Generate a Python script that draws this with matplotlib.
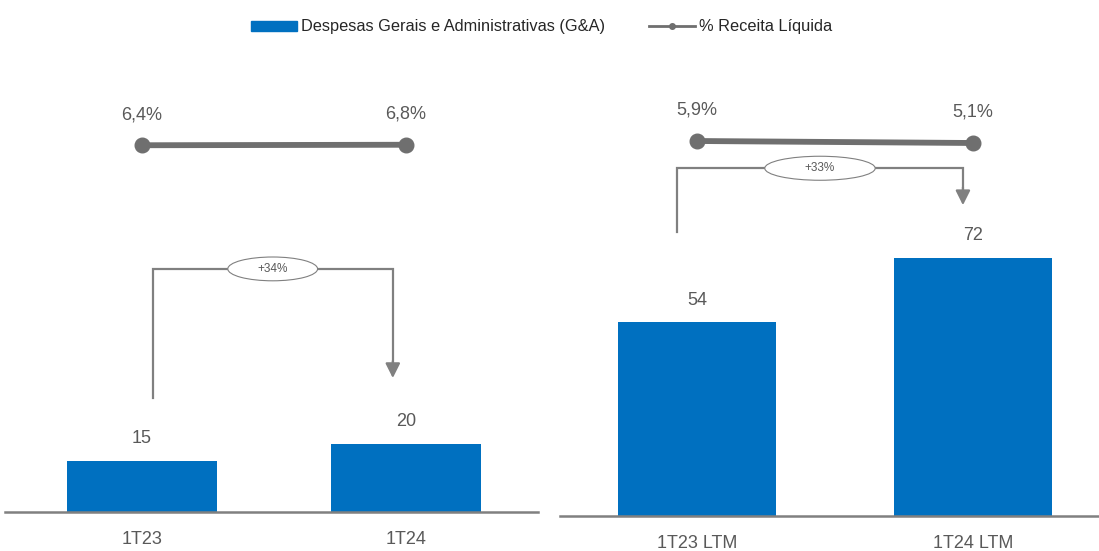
import matplotlib
matplotlib.use("Agg")
import matplotlib.pyplot as plt
from matplotlib.patches import Ellipse

plt.rcParams['font.family'] = ['Liberation Sans', 'DejaVu Sans']

# dados
cats_tri = ["1T23", "1T24"]
ga_tri = [15, 20]
pct_tri = [6.4, 6.8]
var_tri = "+34%"

cats_ltm = ["1T23 LTM", "1T24 LTM"]
ga_ltm = [54, 72]
pct_ltm = [5.9, 5.1]
var_ltm = "+33%"

BLUE = "#0070C0"
GRAY = "#6F6F6F"
LGRAY = "#808080"
TXT = "#595959"

W, H = 1099, 551
fig = plt.figure(figsize=(W / 100, H / 100), dpi=100)


def fx(px):
    return px / W


def fy(px):
    return 1 - px / H


def painel(x0, x1, base, top, cats, vals, pcts, var, ylim, xlim, plim, bracket, ell_wh):
    ax = fig.add_axes([fx(x0), fy(base), fx(x1 - x0), fy(top) - fy(base)])
    xs = list(range(len(cats)))
    ax.bar(xs, vals, width=0.57, color=BLUE, zorder=2)
    ax.set_xlim(*xlim)
    ax.set_ylim(*ylim)
    for s in ["top", "right", "left"]:
        ax.spines[s].set_visible(False)
    ax.spines["bottom"].set_color(LGRAY)
    ax.spines["bottom"].set_linewidth(1.8)
    ax.set_yticks([])
    ax.set_xticks(xs)
    ax.set_xticklabels(cats, fontsize=13, color=TXT)
    ax.tick_params(axis="x", length=0, pad=14)
    for x, v in zip(xs, vals):
        ax.annotate(f"{v}", (x, v), xytext=(0, 10), textcoords="offset points",
                    ha="center", va="bottom", fontsize=13, color=TXT)

    # linha de % receita
    ax2 = ax.twinx()
    ax2.set_ylim(*plim)
    ax2.axis("off")
    ax2.plot(xs, pcts, color=GRAY, lw=4.2, marker="o", ms=10.5, zorder=3)
    for x, p in zip(xs, pcts):
        ax2.annotate(f"{p:.1f}%".replace(".", ","), (x, p), xytext=(0, 16),
                     textcoords="offset points", ha="center", va="bottom",
                     fontsize=13, color=TXT)

    # seta de variação
    xa, xb, ya, ytop, yb = bracket
    ax.plot([xa, xa, xb, xb], [ya, ytop, ytop, yb + 4], color=LGRAY, lw=1.6,
            solid_joinstyle="miter", zorder=1)
    ax.annotate("", xy=(xb, yb), xytext=(xb, yb + 5),
                arrowprops=dict(arrowstyle="-|>", color=LGRAY, lw=1.6,
                                mutation_scale=22, shrinkA=0, shrinkB=0))
    xm = (xa + xb) / 2
    ell = Ellipse((xm, ytop), ell_wh[0], ell_wh[1], facecolor="white",
                  edgecolor=LGRAY, lw=0.8, zorder=4)
    ax.add_patch(ell)
    ax.text(xm, ytop, var, ha="center", va="center", fontsize=8.5, color=TXT,
            zorder=5)
    return ax


# painel trimestre: 3,4 px por unidade
painel(5, 538, 512, 60, cats_tri, ga_tri, pct_tri, var_tri,
       (0, 452 / 3.4), (-0.519, 1.5), (-287, 74.6),
       (0.04, 0.95, 33.5, 71.5, 39.4), (0.34, 7.0))

# painel LTM: 3,585 px por unidade
painel(560, 1099, 516, 60, cats_ltm, ga_ltm, pct_ltm, var_ltm,
       (0, 456 / 3.585), (-0.496, 1.457), (-144.1, 38.3),
       (-0.072, 0.964, 79.2, 97.0, 86.7), (0.40, 6.7))

# legenda
h1 = plt.Rectangle((0, 0), 1, 1, color=BLUE)
h2 = plt.Line2D([], [], color=GRAY, lw=2, marker="o", ms=4)
fig.legend([h1, h2], ["Despesas Gerais e Administrativas (G&A)", "% Receita Líquida"],
           loc="center", bbox_to_anchor=(0.493, fy(27)), ncol=2, frameon=False,
           fontsize=11.8, handlelength=2.8, handleheight=0.6, columnspacing=2.7,
           handletextpad=0.25, labelcolor="#262626")

fig.savefig("out.png", dpi=100)
